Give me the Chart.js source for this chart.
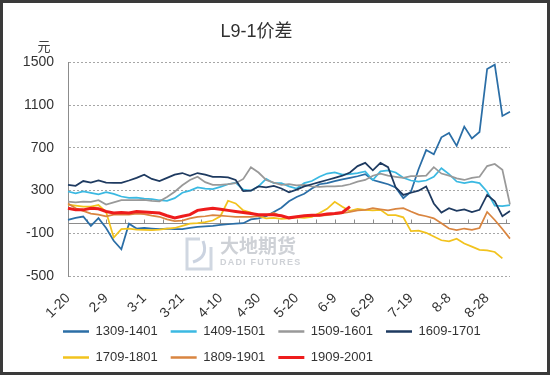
<!DOCTYPE html>
<html>
<head>
<meta charset="utf-8">
<title>L9-1价差</title>
<script src="https://cdn.jsdelivr.net/npm/chart.js@4.4.0/dist/chart.umd.min.js"></script>
<style>
  html, body { margin: 0; padding: 0; background: #fff; }
  #frame { position: absolute; left: 0; top: 0; width: 550px; height: 375px; box-sizing: border-box; border: 3px solid #3a3a3a; background: #fff; }
  canvas { display: block; }
</style>
</head>
<body>
<div id="frame"><canvas id="spreadChart" width="544" height="369"></canvas></div>
<script>
// x axis: one category every 4 calendar days starting 1-20, labels every 20 days
var dayStep = 4;
var dayCount = 59;
var tickLabels = ['1-20', '2-9', '3-1', '3-21', '4-10', '4-30', '5-20', '6-9', '6-29', '7-19', '8-8', '8-28'];

var categories = [];
for (var i = 0; i < dayCount; i++) {
    var d = new Date(2013, 0, 20 + i * dayStep);
    categories.push((d.getMonth() + 1) + '-' + d.getDate());
}

var seriesNames = ['1309-1401', '1409-1501', '1509-1601', '1609-1701', '1709-1801', '1809-1901', '1909-2001'];

var s1309 = [26, 45, 57, -30, 42, -50, -170, -250, -10, -55, -50, -55, -60, -55, -60, -60, -50, -40, -35, -30,
    -20, -15, -10, -5, 30, 40, 60, 100, 140, 200, 240, 270, 320, 360, 370, 390, 405, 420, 435, 455,
    400, 380, 360, 330, 230, 290, 500, 680, 640, 800, 840, 720, 900, 790, 850, 1440, 1480, 1000, 1040];
var s1409 = [292, 275, 292, 280, 265, 285, 270, 245, 232, 235, 225, 220, 210, 205, 230, 280, 300, 330, 320, 315,
    335, 360, 375, 310, 300, 340, 410, 370, 370, 340, 320, 370, 390, 430, 460, 470, 450, 455, 465, 480,
    400, 480, 490, 470, 420, 395, 385, 395, 430, 510, 455, 385, 370, 385, 370, 290, 160, 155, 165];
var s1509 = [198, 190, 198, 195, 210, 170, 190, 210, 212, 210, 214, 205, 200, 240, 290, 350, 400, 430, 380, 355,
    355, 360, 370, 410, 520, 470, 400, 375, 355, 360, 350, 355, 340, 335, 340, 340, 345, 360, 385, 400,
    440, 460, 440, 430, 420, 435, 435, 440, 520, 460, 440, 415, 400, 420, 430, 530, 550, 495, 170];
var s1609 = [354, 345, 390, 375, 395, 375, 373, 373, 395, 420, 450, 410, 390, 420, 450, 465, 440, 465, 450, 430,
    430, 425, 400, 295, 300, 340, 330, 345, 320, 285, 310, 340, 360, 380, 400, 420, 440, 470, 530, 560,
    490, 560, 520, 330, 260, 280, 300, 340, 180, 95, 135, 110, 125, 100, 120, 260, 200, 60, 110];
var s1709 = [170, 160, 150, 150, 165, 100, -140, -60, -55, -65, -68, -70, -65, -55, -50, -30, -10, -5, 5, 20,
    60, 205, 180, 115, 95, 60, 40, 45, 35, 40, 50, 45, 55, 90, 130, 195, 150, 110, 130, 120,
    115, 120, 70, 70, 50, -80, -75, -95, -130, -165, -175, -150, -195, -225, -255, -260, -275, -335, null];
var s1809 = [180, 135, 110, 85, 75, 60, 75, 75, 75, 85, 80, 65, 55, 30, 15, 20, 40, 55, 60, 70,
    65, 60, 55, 55, 55, 60, 70, 90, 60, 45, 55, 60, 60, 65, 70, 80, 90, 100, 115, 120,
    135, 125, 115, 130, 135, 104, 75, 60, 40, -5, -55, -70, -55, -68, -50, 100, 25, -60, -150];
var s1909 = [135, 120, 120, 135, 130, 105, 90, 95, 90, 105, 100, 95, 90, 65, 45, 60, 75, 115, 125, 135,
    125, 115, 105, 95, 85, 75, 75, 75, 65, 45, 55, 65, 70, 70, 80, 85, 95, 150, null, null,
    null, null, null, null, null, null, null, null, null, null, null, null, null, null, null, null, null, null, null];

var seriesValues = [s1309, s1409, s1509, s1609, s1709, s1809, s1909];
var seriesColors = ['#2b6ea6', '#3bb9e2', '#999999', '#1e3a60', '#f2c31e', '#d98540', '#ee1c1c'];

Chart.defaults.font.family = '"Liberation Sans", "Noto Sans CJK SC", sans-serif';
Chart.defaults.color = '#404040';

var decorPlugin = {
    id: 'decor',
    afterLayout: function (chart) {
        // legend rows start under the plot's left edge like the original
        var lg = chart.legend;
        if (lg) {
            lg.left = 47;
            lg.top = 309;
            lg.bottom = 369;
        }
        // let the rotated date labels run past the fixed axis box without clipping
        var xs = chart.scales.x;
        if (xs) xs.bottom = xs.top + 60;
    },
    beforeDatasetsDraw: function (chart) {
        var ctx = chart.ctx;
        var xs = chart.scales.x;
        var ys = chart.scales.y;
        var area = chart.chartArea;
        ctx.save();

        // watermark
        ctx.strokeStyle = 'rgba(170,182,200,0.55)';
        ctx.lineWidth = 3;
        ctx.beginPath();
        ctx.moveTo(197, 236);
        ctx.lineTo(184, 236);
        ctx.lineTo(184, 266);
        ctx.lineTo(208, 266);
        ctx.lineTo(208, 244);
        ctx.stroke();
        ctx.strokeStyle = 'rgba(160,175,198,0.55)';
        ctx.beginPath();
        ctx.moveTo(190, 259);
        ctx.quadraticCurveTo(206, 254, 200, 238);
        ctx.stroke();
        ctx.fillStyle = 'rgba(185,189,196,0.7)';
        ctx.textAlign = 'left';
        ctx.textBaseline = 'middle';
        ctx.font = 'bold 19px "Noto Sans CJK SC"';
        ctx.fillText('大地期货', 217, 243);
        ctx.font = 'bold 9px "Liberation Sans"';
        if ('letterSpacing' in ctx) ctx.letterSpacing = '1.2px';
        ctx.fillText('DADI FUTURES', 217, 260);
        if ('letterSpacing' in ctx) ctx.letterSpacing = '0px';

        // zero line with small tick marks every 10 days
        var y0 = Math.round(ys.getPixelForValue(0)) + 0.5;
        ctx.strokeStyle = '#8c8c8c';
        ctx.lineWidth = 1;
        ctx.beginPath();
        ctx.moveTo(area.left, y0);
        ctx.lineTo(area.right, y0);
        for (var d = 10; d <= 230; d += 10) {
            var px = Math.round(xs.getPixelForValue(d / dayStep)) + 0.5;
            ctx.moveTo(px, y0);
            ctx.lineTo(px, y0 - 4);
        }
        ctx.stroke();

        // unit
        ctx.fillStyle = '#404040';
        ctx.font = '13px "Noto Sans CJK SC"';
        ctx.textAlign = 'center';
        ctx.fillText('元', 41, 43);
        ctx.restore();
    }
};

var datasets = seriesNames.map(function (name, i) {
    return {
        label: name,
        data: seriesValues[i],
        borderColor: seriesColors[i],
        backgroundColor: seriesColors[i],
        borderWidth: i === 6 ? 3 : 1.75,
        pointRadius: 0,
        tension: 0,
        fill: false,
        order: 6 - i
    };
});

var ctx = document.getElementById('spreadChart');
new Chart(ctx.getContext('2d'), {
    type: 'line',
    data: { labels: categories, datasets: datasets },
    options: {
        responsive: false,
        animation: false,
        devicePixelRatio: 1,
        layout: { padding: { left: 0, right: 37, top: 0, bottom: 0 } },
        plugins: {
            title: {
                display: true,
                text: 'L9-1价差',
                color: '#303030',
                font: { size: 18, weight: 'normal' },
                padding: { top: 18, bottom: 20 }
            },
            legend: {
                position: 'bottom',
                align: 'start',
                labels: {
                    usePointStyle: true,
                    pointStyleWidth: 26,
                    padding: 13,
                    font: { size: 13 },
                    generateLabels: function (chart) {
                        return chart.data.datasets.map(function (ds, i) {
                            return {
                                text: ds.label,
                                fillStyle: ds.borderColor,
                                strokeStyle: ds.borderColor,
                                lineWidth: i === 6 ? 3 : 2.5,
                                pointStyle: 'line',
                                fontColor: '#333333',
                                hidden: false,
                                datasetIndex: i
                            };
                        });
                    }
                }
            },
            tooltip: { enabled: false }
        },
        scales: {
            x: {
                type: 'category',
                grid: { display: false },
                border: { display: false },
                ticks: {
                    autoSkip: false,
                    minRotation: 45,
                    maxRotation: 45,
                    padding: 6,
                    color: '#333333',
                    font: { size: 14 },
                    callback: function (val, index) {
                        var lab = categories[index];
                        return tickLabels.indexOf(lab) >= 0 ? lab : '';
                    }
                },
                afterFit: function (s) { s.height = 34; }
            },
            y: {
                min: -500,
                max: 1500,
                ticks: {
                    stepSize: 400,
                    padding: 14,
                    color: '#333333',
                    font: { size: 14 },
                    callback: function (v) { return String(v); }
                },
                grid: { color: '#a6a6a6', lineWidth: 1, drawTicks: false },
                border: { display: true, color: '#8c8c8c', width: 1, dash: [2, 2] },
                afterFit: function (s) { s.width = 65; }
            }
        }
    },
    plugins: [decorPlugin]
});
</script>
</body>
</html>
